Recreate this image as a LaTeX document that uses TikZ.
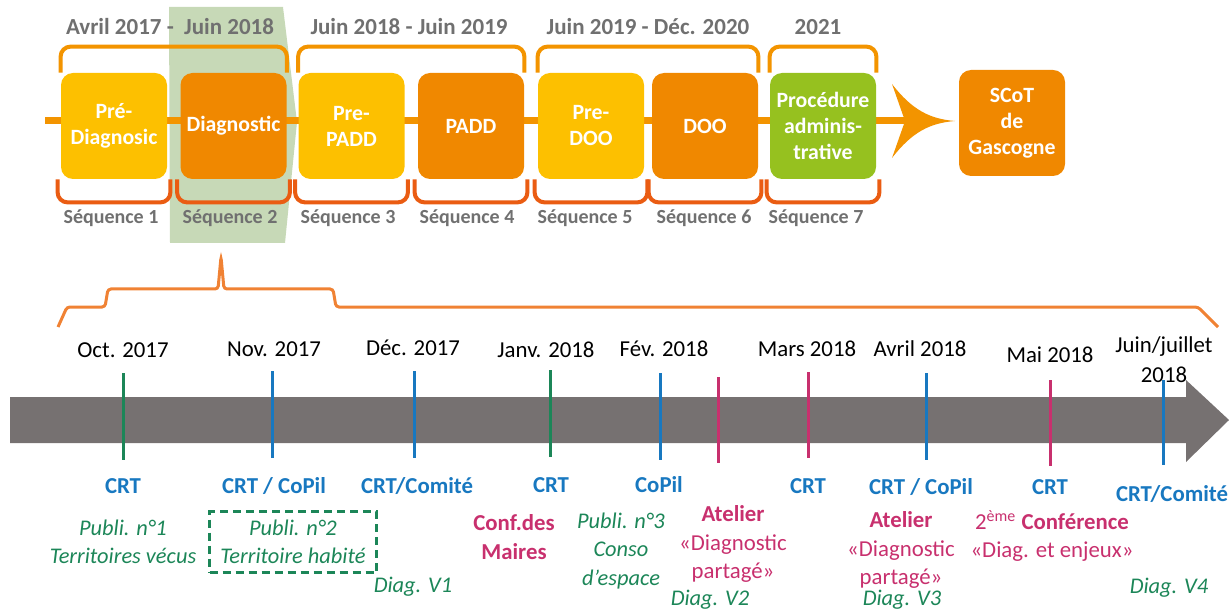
\documentclass[tikz,border=0pt]{standalone}
\usepackage{fontspec}
\setmainfont{Carlito}
\usetikzlibrary{calc}

\definecolor{bandgreen}{RGB}{199,217,183}
\definecolor{boxyellow}{RGB}{253,192,0}
\definecolor{boxorange}{RGB}{240,136,0}
\definecolor{boxgreen}{RGB}{150,193,31}
\definecolor{braceorange}{RGB}{243,148,0}
\definecolor{seqred}{RGB}{234,92,18}
\definecolor{spanorange}{RGB}{240,130,52}
\definecolor{periodgray}{RGB}{112,112,112}
\definecolor{timebar}{RGB}{118,113,113}
\definecolor{evblue}{RGB}{24,120,192}
\definecolor{evgreen}{RGB}{28,134,88}
\definecolor{evpink}{RGB}{200,48,110}

\begin{document}
\begin{tikzpicture}[x=0.5pt, y=-0.5pt,
    seqbox/.style={rounded corners=6pt, minimum width=53pt, minimum height=53pt, inner sep=0pt,
        align=center, text=white, font=\fontsize{10.9}{13}\selectfont\bfseries},
    topbrace/.style={draw=braceorange, line width=2pt, rounded corners=5pt},
    seqbrace/.style={draw=seqred, line width=2pt, rounded corners=5pt},
    period/.style={text=periodgray, font=\fontsize{11.5}{14}\selectfont\bfseries},
    seqlabel/.style={text=periodgray, font=\fontsize{10}{12}\selectfont\bfseries},
    month/.style={align=center, font=\fontsize{11.4}{15}\selectfont},
    meet/.style={text=evblue, font=\fontsize{11.4}{14}\selectfont\bfseries},
    publi/.style={text=evgreen, align=center, font=\fontsize{11.2}{14.3}\selectfont\itshape},
    event/.style={text=evpink, align=center, font=\fontsize{11.4}{14.1}\selectfont},
    tick/.style={line width=1.5pt}]
\useasboundingbox (0,0) rectangle (1229,614);

% phases
\fill[bandgreen] (169,7) -- (283,7) -- (297,122) -- (285,243) -- (170,243) -- cycle;

\coordinate (lstart) at (45,121);
\coordinate (headback) at (905,121);
\draw[braceorange, line width=3.5pt] (lstart) -- (headback);
\fill[braceorange] (892,84) .. controls (912,110) and (930,119) .. (955,121)
    .. controls (930,123) and (912,132) .. (892,158) -- (905,121) -- cycle;

\node[seqbox, fill=boxyellow] (prediag) at (114,126) {Pré-\\Diagnosic};
\node[seqbox, fill=boxorange] (diag) at (233.5,126) {Diagnostic};
\node[seqbox, fill=boxyellow] (prepadd) at (351.5,126) {Pre-\\PADD};
\node[seqbox, fill=boxorange] (padd) at (471,126) {PADD};
\node[seqbox, fill=boxyellow] (predoo) at (591,126) {Pre-\\DOO};
\node[seqbox, fill=boxorange] (doo) at (705,126) {DOO};
\node[seqbox, fill=boxgreen] (proc) at (823,126) {Procédure\\adminis-\\trative};
\node[seqbox, fill=boxorange] (scot) at (1012,123) {SCoT\\de\\Gascogne};

\draw[topbrace] (prediag.north west) |- ($(diag.north east)+(0,13pt)$) -- (diag.north east);
\draw[topbrace] (prepadd.north west) |- ($(padd.north east)+(0,13pt)$) -- (padd.north east);
\draw[topbrace] (predoo.north west) |- ($(doo.north east)+(0,13pt)$) -- (doo.north east);
\draw[topbrace] (proc.north west) |- ($(proc.north east)+(0,13pt)$) -- (proc.north east);

\node[period] (per1) at (170,27) {Avril 2017 -~ Juin 2018};
\node[period] (per2) at (409,27) {Juin 2018 - Juin 2019};
\node[period] (per3) at (648,27) {Juin 2019 - Déc. 2020};
\node[period] (per4) at (818,27) {2021};

\draw[seqbrace] ([xshift=-1.5pt]prediag.south west) |- ($(prediag.south east)+(1.5pt,-11.5pt)$) -- ([xshift=1.5pt]prediag.south east);
\draw[seqbrace] ([xshift=-1.5pt]diag.south west) |- ($(diag.south east)+(1.5pt,-11.5pt)$) -- ([xshift=1.5pt]diag.south east);
\draw[seqbrace] ([xshift=-1.5pt]prepadd.south west) |- ($(prepadd.south east)+(1.5pt,-11.5pt)$) -- ([xshift=1.5pt]prepadd.south east);
\draw[seqbrace] ([xshift=-1.5pt]padd.south west) |- ($(padd.south east)+(1.5pt,-11.5pt)$) -- ([xshift=1.5pt]padd.south east);
\draw[seqbrace] ([xshift=-1.5pt]predoo.south west) |- ($(predoo.south east)+(1.5pt,-11.5pt)$) -- ([xshift=1.5pt]predoo.south east);
\draw[seqbrace] ([xshift=-1.5pt]doo.south west) |- ($(doo.south east)+(1.5pt,-11.5pt)$) -- ([xshift=1.5pt]doo.south east);
\draw[seqbrace] ([xshift=-1.5pt]proc.south west) |- ($(proc.south east)+(1.5pt,-11.5pt)$) -- ([xshift=1.5pt]proc.south east);

\node[seqlabel] (seq1) at (111,218) {Séquence 1};
\node[seqlabel] (seq2) at (230,218) {Séquence 2};
\node[seqlabel] (seq3) at (348,218) {Séquence 3};
\node[seqlabel] (seq4) at (467,218) {Séquence 4};
\node[seqlabel] (seq5) at (585,218) {Séquence 5};
\node[seqlabel] (seq6) at (704,218) {Séquence 6};
\node[seqlabel] (seq7) at (816,218) {Séquence 7};

% zoom on sequence 2
\draw[spanorange, line width=1.5pt, rounded corners=1.5pt] (58,327) -- (67,307) -- (105,307) -- (108,289)
    -- (218,289) -- (221,257) -- (224,289) -- (333,289) -- (336,307) -- (1198,307) -- (1218,327);

\fill[timebar] (10,397) -- (1186,397) -- (1186,380) -- (1229,420) -- (1186,462) -- (1186,443) -- (10,443) -- cycle;

\draw[tick, evgreen] (123,373) -- (123,460);
\draw[tick, evblue] (272,371) -- (272,458);
\draw[tick, evblue] (414,371) -- (414,458);
\draw[tick, evgreen] (550,370) -- (550,457);
\draw[tick, evblue] (660,373) -- (660,460);
\draw[tick, evpink] (718,377) -- (718,463);
\draw[tick, evpink] (808,372) -- (808,458);
\draw[tick, evblue] (926,373) -- (926,460);
\draw[tick, evpink] (1050,380) -- (1050,466);
\draw[tick, evblue] (1163,380) -- (1163,465);

\node[month] (oct) at (123,350) {Oct. 2017};
\node[month] (nov) at (274,349) {Nov. 2017};
\node[month] (dec) at (413,348) {Déc. 2017};
\node[month] (jan) at (546,350) {Janv. 2018};
\node[month] (feb) at (664,349) {Fév. 2018};
\node[month] (mar) at (807,349) {Mars 2018};
\node[month] (apr) at (920,349) {Avril 2018};
\node[month] (may) at (1050,355) {Mai 2018};
\node[month] (jun) at (1164,360) {Juin/juillet\\2018};

\node[meet] (m1) at (123,486) {CRT};
\node[meet] (m2) at (274,486) {CRT / CoPil};
\node[meet] (m3) at (417,486) {CRT/Comité};
\node[meet] (m4) at (551,485) {CRT};
\node[meet] (m5) at (659,485) {CoPil};
\node[meet] (m6) at (808,486) {CRT};
\node[meet] (m7) at (921,487) {CRT / CoPil};
\node[meet] (m8) at (1050,487) {CRT};
\node[meet] (m9) at (1172,494) {CRT/Comité};

\node[publi] (pub1) at (123,542) {Publi. n°1\\Territoires vécus};
\node[publi, draw=evgreen, line width=1.5pt, dash pattern=on 4pt off 2.5pt,
    minimum width=83.5pt, minimum height=30.5pt, inner sep=0pt] (pub2) at (293,542) {Publi. n°2\\Territoire habité};
\node[publi] (diag1) at (413,587) {Diag. V1};
\node[publi] (pub3) at (621,551) {Publi. n°3\\Conso\\d’espace};
\node[publi] (diag2) at (710,600) {Diag. V2};
\node[publi] (diag3) at (902,600) {Diag. V3};
\node[publi] (diag4) at (1169,588) {Diag. V4};

\node[event, font=\fontsize{11.4}{14.1}\selectfont\bfseries] (conf1) at (514,537) {Conf.des\\Maires};
\node[event] (atel1) at (733,544) {\textbf{Atelier}\\«Diagnostic\\partagé»};
\node[event] (atel2) at (901,550) {\textbf{Atelier}\\«Diagnostic\\partagé»};
\node[event] (conf2) at (1052,536) {2\textsuperscript{ème} \textbf{Conférence}\\«Diag. et enjeux»};
\end{tikzpicture}
\end{document}
